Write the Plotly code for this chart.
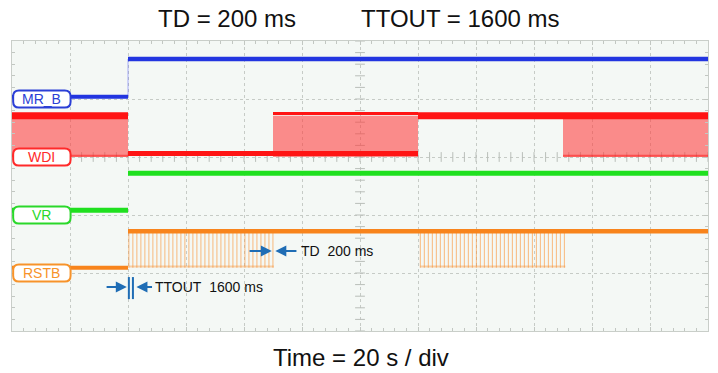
import numpy as np
import plotly.graph_objects as go

# ---------------- data (time in s, 20 s/div; levels in divisions) ----------------
t_edge = 40            # power-up edge
mrb_low, mrb_high = 4.04, 4.69
vr_low, vr_high = 2.08, 2.72
rstb_low, rstb_high = 1.09, 1.72
wdi_low, wdi_high = 3.06, 3.71
wdi_bottom = 3.0

wdi_toggle_windows = [(0, 40), (90, 140), (190, 240)]
wdi_high_windows = [(0, 40), (140, 240)]
wdi_low_windows = [(40, 140)]
rstb_pulse_windows = [(40.3, 90.3), (140.8, 190.8)]
rstb_pulse_period = 1.38

labels = ["MR_B", "WDI", "VR", "RSTB"]
label_levels = [4, 3, 2, 1]
colors = {"MR_B": "#2235e0", "WDI": "#ff1414", "VR": "#1fe01f", "RSTB": "#f8841c"}
label_colors = {"MR_B": "#2b3fd6", "WDI": "#ff2a2a", "VR": "#2ad82a", "RSTB": "#f7932a"}

title_left = "TD = 200 ms"
title_right = "TTOUT = 1600 ms"
xlabel = "Time = 20 s / div"
td_text = "TD\u00a0\u00a0200 ms"
ttout_text = "TTOUT\u00a0\u00a01600 ms"

FONT = "Liberation Sans, Arial, sans-serif"
ARROW = "#1f6db5"

fig = go.Figure()


def seg_trace(windows, level, color, width, opacity=1.0):
    xs, ys = [], []
    for a, b in windows:
        xs += [a, b, None]
        ys += [level, level, None]
    fig.add_trace(go.Scatter(x=xs, y=ys, mode="lines", opacity=opacity,
                             line=dict(color=color, width=width),
                             hoverinfo="skip", showlegend=False))


# center crosshair minor ticks (decoration)
cx_y = np.arange(0, 5.01, 0.2)
fig.add_trace(go.Scatter(x=[120] * len(cx_y), y=cx_y, mode="markers",
                         marker=dict(symbol="line-ew", size=7,
                                     line=dict(color="#b9beb9", width=1)),
                         hoverinfo="skip", showlegend=False))
cy_x = np.arange(0, 240.1, 4)
fig.add_trace(go.Scatter(x=cy_x, y=[3] * len(cy_x), mode="markers",
                         marker=dict(symbol="line-ns", size=7,
                                     line=dict(color="#b9beb9", width=1)),
                         hoverinfo="skip", showlegend=False))

# ---- MR_B ----
fig.add_trace(go.Scatter(x=[t_edge, t_edge], y=[mrb_low, mrb_high], mode="lines",
                         line=dict(color="rgba(70,80,255,0.45)", width=1),
                         hoverinfo="skip", showlegend=False))
seg_trace([(0, t_edge)], mrb_low, colors["MR_B"], 4)
seg_trace([(t_edge, 240)], mrb_high, colors["MR_B"], 4.5)

# ---- WDI ----
for a, b in wdi_toggle_windows:
    fig.add_trace(go.Scatter(x=[a, b, b, a, a],
                             y=[wdi_bottom, wdi_bottom, wdi_high, wdi_high, wdi_bottom],
                             mode="lines", fill="toself",
                             fillcolor="rgba(255,60,60,0.58)",
                             line=dict(width=0, color="rgba(0,0,0,0)"),
                             hoverinfo="skip", showlegend=False))
seg_trace(wdi_high_windows, wdi_high, colors["WDI"], 7)
seg_trace([(90, 140)], wdi_high + 0.04, colors["WDI"], 3)
seg_trace(wdi_low_windows, wdi_low, colors["WDI"], 5)
seg_trace([(0, 40), (190, 240)], wdi_bottom + 0.02, colors["WDI"], 2, opacity=0.5)

# ---- VR ----
seg_trace([(0, t_edge)], vr_low, colors["VR"], 5)
seg_trace([(t_edge, 240)], vr_high, colors["VR"], 5)

# ---- RSTB ----
px, py = [], []
for a, b in rstb_pulse_windows:
    for t in np.arange(a, b, rstb_pulse_period):
        px += [t, t, None]
        py += [rstb_high, rstb_low, None]
fig.add_trace(go.Scatter(x=px, y=py, mode="lines",
                         line=dict(color="rgba(250,150,60,0.65)", width=1),
                         hoverinfo="skip", showlegend=False))
seg_trace(rstb_pulse_windows, rstb_low + 0.02, colors["RSTB"], 2, opacity=0.35)
seg_trace([(0, t_edge)], rstb_low, colors["RSTB"], 4)
seg_trace([(t_edge, 240)], rstb_high, colors["RSTB"], 4.5)

# channel offset markers
fig.add_trace(go.Scatter(x=[-0.3] * 4, y=label_levels, mode="markers",
                         marker=dict(symbol="triangle-right", size=5,
                                     color=[colors[l] for l in labels]),
                         cliponaxis=False, hoverinfo="skip", showlegend=False))
fig.add_trace(go.Scatter(x=[241.2], y=[4.34], mode="markers",
                         marker=dict(symbol="triangle-left", size=6, color="#1f6dd5"),
                         cliponaxis=False, hoverinfo="skip", showlegend=False))

# ---- label boxes ----
shapes = []
annotations = []
x0, x1 = 0.4, 20.2
rx, ry, hh = 2.0, 0.1, 0.148
for lab, lev in zip(labels, label_levels):
    y0, y1 = lev - hh, lev + hh
    path = (f"M {x0+rx},{y0} L {x1-rx},{y0} Q {x1},{y0} {x1},{y0+ry} "
            f"L {x1},{y1-ry} Q {x1},{y1} {x1-rx},{y1} L {x0+rx},{y1} "
            f"Q {x0},{y1} {x0},{y1-ry} L {x0},{y0+ry} Q {x0},{y0} {x0+rx},{y0} Z")
    shapes.append(dict(type="path", path=path, xref="x", yref="y",
                       fillcolor="white", line=dict(color=label_colors[lab], width=2),
                       layer="above"))
    annotations.append(dict(x=(x0 + x1) / 2, y=lev, xref="x", yref="y", text=lab,
                            showarrow=False, font=dict(family=FONT, size=14,
                                                       color=label_colors[lab])))

# ---- timing arrows ----
def arrow(head_x, tail_x, y):
    annotations.append(dict(x=head_x, y=y, ax=tail_x, ay=y, xref="x", yref="y",
                            axref="x", ayref="y", text="", showarrow=True,
                            arrowhead=2, arrowsize=1.1, arrowwidth=2,
                            arrowcolor=ARROW))

arrow(89.6, 81.4, 1.38)
arrow(90.8, 98.6, 1.38)
annotations.append(dict(x=99.0, y=1.38, xref="x", yref="y", text=td_text,
                        xanchor="left", showarrow=False,
                        font=dict(family=FONT, size=14, color="#111")))

arrow(39.6, 32.1, 0.76)
arrow(42.9, 48.8, 0.76)
for xv in (40.3, 41.7):
    shapes.append(dict(type="line", xref="x", yref="y", x0=xv, x1=xv, y0=0.55, y1=0.93,
                       line=dict(color=ARROW, width=2)))
annotations.append(dict(x=48.6, y=0.76, xref="x", yref="y", text=ttout_text,
                        xanchor="left", showarrow=False,
                        font=dict(family=FONT, size=14, color="#111")))

# ---- titles ----
for txt, xp, yp in [(title_left, 0.3089, 1.079), (title_right, 0.6444, 1.079),
                    (xlabel, 0.5014, -0.0897)]:
    annotations.append(dict(x=xp, y=yp, xref="paper", yref="paper", text=txt,
                            xanchor="center", yanchor="middle", showarrow=False,
                            font=dict(family=FONT, size=24, color="#111")))

axis_common = dict(showticklabels=False, zeroline=False, showline=True, mirror="allticks",
                   linecolor="#c9cec9", linewidth=1, gridcolor="#c6cbc6", griddash="dot",
                   gridwidth=1, ticks="inside", ticklen=4, tickcolor="#c2c7c2")

fig.update_layout(
    width=718, height=373,
    margin=dict(l=12, r=10, t=41, b=42, autoexpand=False),
    paper_bgcolor="white", plot_bgcolor="#f4f8f5",
    xaxis=dict(range=[0, 240], dtick=20, fixedrange=True,
               minor=dict(dtick=4, ticks="inside", ticklen=3, tickcolor="#c2c7c2"),
               **axis_common),
    yaxis=dict(range=[0, 5], dtick=1, fixedrange=True,
               minor=dict(dtick=0.2, ticks="inside", ticklen=3, tickcolor="#c2c7c2"),
               **axis_common),
    shapes=shapes, annotations=annotations, showlegend=False,
)

fig.write_html("out.html", config={"displayModeBar": False},
               post_script="document.body.style.margin='0';document.body.style.overflow='hidden';")
